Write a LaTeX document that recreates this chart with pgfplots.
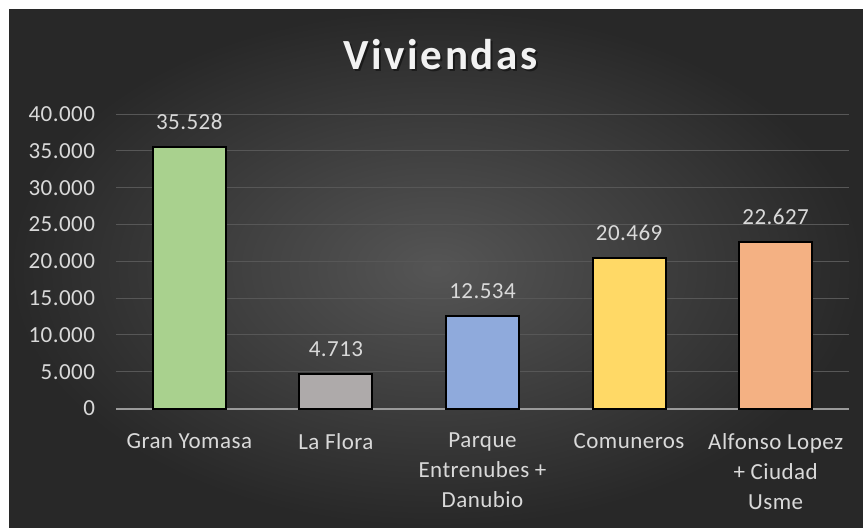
\documentclass[border=0pt]{standalone}
\usepackage{fontspec}
\setmainfont{Carlito}
\usepackage{pgfplots}
\pgfplotsset{compat=1.18}
\definecolor{bgin}{HTML}{555555}
\definecolor{bgout}{HTML}{282828}
\definecolor{txt}{HTML}{D9D9D9}
\definecolor{gridc}{HTML}{575757}
\definecolor{axc}{HTML}{9A9A9A}
\definecolor{cgreen}{HTML}{A9D18E}
\definecolor{cgray}{HTML}{AEAAAA}
\definecolor{cblue}{HTML}{8FAADC}
\definecolor{cyellow}{HTML}{FFD966}
\definecolor{corange}{HTML}{F4B183}
\begin{document}
\begin{tikzpicture}
\begin{scope}[x=0.5pt,y=0.5pt]
\fill[white] (0,0) rectangle (863,527);
\shade[inner color=bgin, outer color=bgout] (9,0) rectangle (863,518);
\node[anchor=base, text=black, opacity=0.45, font=\fontsize{21.5}{25}\selectfont\bfseries\addfontfeature{LetterSpace=6}] at (442.5,455.7) {Viviendas};
\node[anchor=base, text=white!95!black, font=\fontsize{21.5}{25}\selectfont\bfseries\addfontfeature{LetterSpace=6}] at (440.5,457.7) {Viviendas};
\end{scope}
\begin{axis}[
  at={(58pt,59.25pt)}, anchor=south west,
  scale only axis, width=366.5pt, height=147.25pt,
  xmin=-0.5, xmax=4.5, ymin=0, ymax=40000,
  ytick={0,5000,...,40000},
  xtick={0,1,2,3,4},
  xticklabels={{Gran Yomasa},{La Flora},{Parque\\Entrenubes +\\Danubio},{Comuneros},{Alfonso Lopez\\+ Ciudad\\Usme}},
  scaled ticks=false,
  /pgf/number format/.cd, 1000 sep={.}, fixed, assume math mode=true,
  /pgfplots/.cd,
  tick style={draw=none},
  axis x line*=bottom, axis y line*=left,
  x axis line style={draw=axc, line width=1pt},
  y axis line style={draw=none},
  ymajorgrids, grid style={draw=gridc, line width=0.5pt},
  yticklabel style={font=\fontsize{11.5}{13}\selectfont\addfontfeature{LetterSpace=2}, text=txt, xshift=-7pt},
  xticklabel style={font=\fontsize{11.5}{15}\selectfont\addfontfeature{LetterSpace=2}, text=txt, align=center, yshift=-4.5pt},
  ybar, bar width=36.5pt, bar shift=0pt,
  nodes near coords,
  every node near coord/.append style={font=\fontsize{11.5}{13}\selectfont\addfontfeature{LetterSpace=2}, text=txt, yshift=4.8pt},
  clip=false,
]
\addplot[fill=cgreen, draw=black, line width=1pt] coordinates {(0,35528)};
\addplot[fill=cgray, draw=black, line width=1pt] coordinates {(1,4713)};
\addplot[fill=cblue, draw=black, line width=1pt] coordinates {(2,12534)};
\addplot[fill=cyellow, draw=black, line width=1pt] coordinates {(3,20469)};
\addplot[fill=corange, draw=black, line width=1pt] coordinates {(4,22627)};
\end{axis}
\end{tikzpicture}
\end{document}
